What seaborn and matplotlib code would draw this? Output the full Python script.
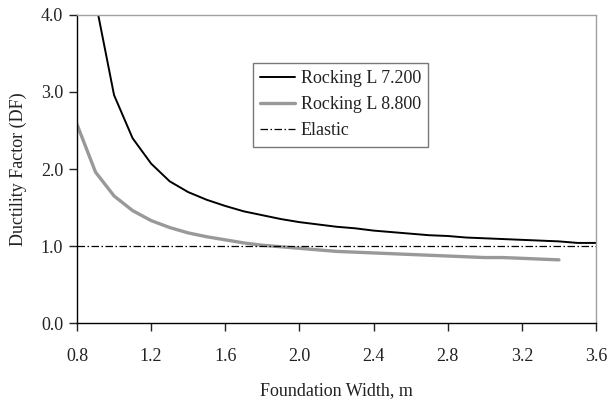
import numpy as np
import pandas as pd
import matplotlib
matplotlib.use("Agg")
import matplotlib.pyplot as plt
import seaborn as sns

# Foundation width (m) and ductility factor for each rocking case
width_72 = [0.8, 0.9, 1.0, 1.1, 1.2, 1.3, 1.4, 1.5, 1.6, 1.7, 1.8, 1.9, 2.0, 2.1, 2.2,
            2.3, 2.4, 2.5, 2.6, 2.7, 2.8, 2.9, 3.0, 3.1, 3.2, 3.3, 3.4, 3.5, 3.6]
df_72 = [6.0, 4.18, 2.96, 2.40, 2.07, 1.84, 1.70, 1.60, 1.52, 1.45, 1.40, 1.35, 1.31, 1.28, 1.25,
         1.23, 1.20, 1.18, 1.16, 1.14, 1.13, 1.11, 1.10, 1.09, 1.08, 1.07, 1.06, 1.04, 1.04]

width_88 = [0.8, 0.9, 1.0, 1.1, 1.2, 1.3, 1.4, 1.5, 1.6, 1.7, 1.8, 1.9, 2.0, 2.1,
            2.2, 2.3, 2.4, 2.5, 2.6, 2.7, 2.8, 2.9, 3.0, 3.1, 3.2, 3.3, 3.4]
df_88 = [2.58, 1.96, 1.65, 1.46, 1.33, 1.24, 1.17, 1.12, 1.08, 1.04, 1.01, 0.99, 0.97, 0.95,
         0.93, 0.92, 0.91, 0.90, 0.89, 0.88, 0.87, 0.86, 0.85, 0.85, 0.84, 0.83, 0.82]

width_elastic = [0.8, 3.6]
df_elastic = [1.0, 1.0]

series_names = ["Rocking L 7.200", "Rocking L 8.800", "Elastic"]
x_ticks = [0.8, 1.2, 1.6, 2.0, 2.4, 2.8, 3.2, 3.6]
y_ticks = [0.0, 1.0, 2.0, 3.0, 4.0]

data = pd.concat([
    pd.DataFrame({"width": width_72, "df": df_72, "case": series_names[0]}),
    pd.DataFrame({"width": width_88, "df": df_88, "case": series_names[1]}),
    pd.DataFrame({"width": width_elastic, "df": df_elastic, "case": series_names[2]}),
])

sns.set_style("ticks")
plt.rcParams["font.family"] = ["Liberation Serif", "DejaVu Serif"]
plt.rcParams["font.size"] = 13

fig = plt.figure(figsize=(6.09, 4.01), dpi=100)
ax = fig.add_axes([0.1264, 0.1945, 0.8523, 0.7681])

palette = {series_names[0]: "#000000", series_names[1]: "#999999", series_names[2]: "#000000"}
sizes = {series_names[0]: 1.4, series_names[1]: 2.4, series_names[2]: 0.9}
dashes = {series_names[0]: "", series_names[1]: "", series_names[2]: (6, 2, 1.2, 2)}

sns.lineplot(data=data, x="width", y="df", hue="case", size="case", style="case",
             palette=palette, sizes=sizes, dashes=dashes, hue_order=series_names,
             ax=ax, estimator=None, sort=False)

ax.set_xlim(0.8, 3.6)
ax.set_ylim(0.0, 4.0)
ax.set_xticks(x_ticks)
ax.set_xticklabels([f"{t:.1f}" for t in x_ticks])
ax.set_yticks(y_ticks)
ax.set_yticklabels([f"{t:.1f}" for t in y_ticks])
ax.tick_params(axis="both", direction="out", length=6, width=1.0, labelsize=13,
               colors="#222222", pad=4)
ax.tick_params(axis="x", pad=12)

for side in ["left", "bottom"]:
    ax.spines[side].set_color("#000000")
    ax.spines[side].set_linewidth(1.0)
for side in ["top", "right"]:
    ax.spines[side].set_visible(True)
    ax.spines[side].set_color("#a0a0a0")
    ax.spines[side].set_linewidth(1.0)

ax.set_xlabel("Foundation Width, m", fontsize=13, labelpad=12, color="#222222")
ax.set_ylabel("Ductility Factor (DF)", fontsize=13, labelpad=10, color="#222222")

leg = ax.legend(loc="upper left", bbox_to_anchor=(0.339, 0.844), borderaxespad=0,
                fancybox=False, frameon=True, fontsize=13, handlelength=1.95,
                handletextpad=0.3, labelspacing=0.5, borderpad=0.4)
leg.get_frame().set_edgecolor("#555555")
leg.get_frame().set_linewidth(1.0)
for t in leg.get_texts():
    t.set_color("#222222")

fig.savefig("out.png", dpi=100)
